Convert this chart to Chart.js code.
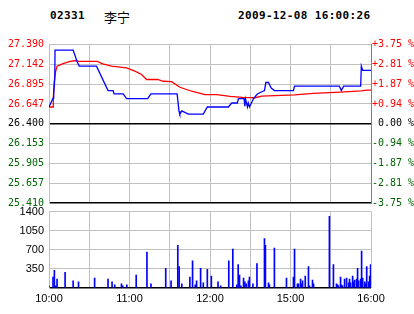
<!DOCTYPE html>
<html>
<head>
<meta charset="utf-8">
<script src="https://cdn.jsdelivr.net/npm/chart.js@4"></script>
<style>
  body { margin: 0; background: #fff; }
  #wrap { position: relative; width: 414px; height: 314px; overflow: hidden; }
  .hd { position: absolute; top: 9px; font: bold 11px "DejaVu Sans Mono", monospace; letter-spacing: 0.35px; color: #000; }
  #name { position: absolute; top: 7px; left: 104px; font: 13px "Noto Sans CJK SC", sans-serif; color: #000; }
  canvas { position: absolute; left: 0; }
</style>
</head>
<body>
<div id="wrap">
  <span class="hd" style="left:50px">02331</span>
  <span id="name">李宁</span>
  <span class="hd" style="left:238px">2009-12-08 16:00:26</span>
  <canvas id="priceChart" width="414" height="214" style="top:0"></canvas>
  <canvas id="volChart" width="414" height="114" style="top:200px"></canvas>
</div>
<script>
// minutes since 10:00 (lunch break removed: 12:30 -> 14:30)
const tickMinutes = [0, 60, 120, 180, 240];
const tickTimes = ['10:00', '11:00', '12:00', '15:00', '16:00'];

const prevClose = 26.4;
const priceTicks = [25.410, 25.657, 25.905, 26.153, 26.400, 26.647, 26.895, 27.142, 27.390];
const pctLabels = ['-3.75 %', '-2.81 %', '-1.87 %', '-0.94 %', ' 0.00 %', '+0.94 %', '+1.87 %', '+2.81 %', '+3.75 %'];

const priceMinutes = [0, 3, 3.5, 4.3, 4.5, 18, 21, 22.5, 35.4, 44, 47.8, 48.5, 55.3, 57.8, 73.5, 76, 95.5, 96.9, 97.5, 99, 103.8, 115, 118, 133.7, 136.2, 140.4, 141.2, 145.4, 146, 146.5, 147.9, 148.5, 149.4, 152.4, 155.3, 157.4, 160.6, 161.6, 163.6, 165.6, 168, 182.2, 183, 216.4, 217.9, 219.6, 232.3, 232.8, 233.8, 240];
const prices = [26.61, 26.72, 26.78, 26.96, 27.32, 27.32, 27.175, 27.12, 27.12, 26.815, 26.815, 26.772, 26.772, 26.714, 26.714, 26.772, 26.772, 26.555, 26.52, 26.56, 26.52, 26.52, 26.609, 26.609, 26.659, 26.659, 26.714, 26.714, 26.62, 26.71, 26.61, 26.66, 26.61, 26.714, 26.772, 26.79, 26.815, 26.915, 26.915, 26.847, 26.815, 26.815, 26.869, 26.869, 26.815, 26.869, 26.869, 27.12, 27.066, 27.066];

const avgMinutes = [0, 3, 3.2, 4, 5, 6, 10, 15, 20, 22, 36, 40, 46.6, 57.8, 64, 69, 72.7, 81, 85, 91.4, 97.6, 106.3, 116.3, 125, 135, 144.4, 153.6, 158.6, 183, 197, 217, 232.8, 237, 240];
const avgPrices = [26.609, 26.609, 26.72, 26.944, 27.057, 27.12, 27.149, 27.175, 27.19, 27.179, 27.179, 27.149, 27.12, 27.098, 27.057, 27.016, 26.953, 26.953, 26.931, 26.925, 26.856, 26.806, 26.764, 26.764, 26.743, 26.73, 26.725, 26.745, 26.76, 26.78, 26.795, 26.81, 26.82, 26.82];

const volMinutes = [0, 3, 4, 5, 6, 12, 18, 22, 34, 44, 47, 49, 54, 55, 58, 65, 73, 76, 87, 91, 96, 97, 99, 105, 107, 109, 110, 113, 115, 118, 121, 126, 128, 134, 137, 140, 141, 142, 143, 145, 146, 147, 148.6, 149.4, 152, 155, 160.6, 161.3, 163.6, 164.3, 168, 177, 182.2, 183, 185.2, 186, 187.5, 188.2, 189, 191, 193.4, 194.2, 196.4, 197.2, 209, 212, 214.3, 215.1, 215.8, 217.3, 218, 218.8, 220.3, 221.8, 223.3, 224, 224.8, 226.3, 227, 227.8, 229.3, 230, 230.8, 232.3, 233, 233.8, 235.3, 236, 236.8, 238.2, 239, 239.7];
const volumes = [41, 200, 324, 41, 165, 288, 130, 112, 182, 165, 112, 59, 77, 41, 59, 235, 659, 77, 359, 130, 783, 394, 77, 200, 500, 59, 130, 359, 94, 341, 218, 112, 41, 500, 712, 59, 430, 235, 41, 182, 112, 77, 130, 200, 77, 447, 906, 783, 94, 59, 730, 182, 200, 712, 77, 77, 165, 77, 130, 218, 394, 41, 147, 77, 1312, 430, 77, 59, 41, 200, 59, 41, 165, 182, 94, 165, 94, 218, 112, 147, 165, 359, 130, 165, 677, 182, 112, 77, 394, 112, 218, 430];

const RED = '#ff0000', GREEN = '#006400', GRID = '#c0c0c0';
const monoFont = { family: 'DejaVu Sans Mono', size: 10 };
const sansFont = { family: 'Liberation Sans', size: 11 };

const pts = (xs, ys) => xs.map((x, i) => ({ x: x, y: ys[i] }));
const setTicks = scale => { scale.ticks = priceTicks.map(v => ({ value: v })); };
const tickColor = c => {
  const v = c.tick.value;
  if (Math.abs(v - prevClose) < 1e-6) return '#000';
  return v > prevClose ? RED : GREEN;
};

new Chart(document.getElementById('priceChart').getContext('2d'), {
  type: 'line',
  data: {
    datasets: [
      {
        data: pts(priceMinutes, prices),
        borderColor: '#0000ff',
        borderWidth: 1.3,
        pointRadius: 0,
        tension: 0,
        fill: false,
      },
      {
        data: pts(avgMinutes, avgPrices),
        borderColor: RED,
        borderWidth: 1.3,
        pointRadius: 0,
        tension: 0,
        fill: false,
      },
    ],
  },
  options: {
    responsive: false,
    animation: false,
    layout: { padding: { top: 44.5, bottom: 3, left: 0, right: 0 } },
    plugins: { legend: { display: false }, tooltip: { enabled: false } },
    scales: {
      x: {
        type: 'linear',
        min: 0,
        max: 240,
        ticks: { stepSize: 30, callback: () => '' },
        grid: { color: GRID, lineWidth: 1, drawTicks: false },
        border: { display: false },
        afterFit: s => { s.height = 0; },
      },
      y: {
        position: 'left',
        min: 25.41,
        max: 27.39,
        afterBuildTicks: setTicks,
        ticks: { color: tickColor, font: monoFont, padding: 5, callback: v => v.toFixed(3) },
        grid: {
          drawTicks: false,
          color: c => (c.tick.value === prevClose || c.tick.value === 25.41 ? '#000' : GRID),
          lineWidth: c => (c.tick.value === prevClose || c.tick.value === 25.41 ? 1.5 : 1),
        },
        border: { color: GRID },
        afterFit: s => { s.width = 49; },
      },
      y2: {
        position: 'right',
        min: 25.41,
        max: 27.39,
        afterBuildTicks: setTicks,
        ticks: { color: tickColor, font: monoFont, padding: 1, callback: (v, i) => pctLabels[i] },
        grid: { display: false, drawTicks: false },
        border: { color: '#808080' },
        afterFit: s => { s.width = 43; },
      },
    },
  },
});

new Chart(document.getElementById('volChart').getContext('2d'), {
  type: 'bar',
  data: {
    datasets: [
      {
        data: pts(volMinutes, volumes),
        backgroundColor: '#0000ff',
        borderWidth: 0,
        barThickness: 1,
      },
    ],
  },
  options: {
    responsive: false,
    animation: false,
    layout: { padding: { top: 7.4, bottom: 0, left: 0, right: 43 } },
    plugins: { legend: { display: false }, tooltip: { enabled: false } },
    scales: {
      x: {
        type: 'linear',
        offset: false,
        min: 0,
        max: 240,
        ticks: {
          stepSize: 30,
          autoSkip: false,
          maxRotation: 0,
          padding: 4,
          color: '#000',
          font: sansFont,
          callback: v => {
            const i = tickMinutes.indexOf(v);
            return i < 0 ? '' : tickTimes[i];
          },
        },
        grid: { offset: false, color: GRID, lineWidth: 1, drawTicks: false },
        border: { display: false },
        afterFit: s => { s.height = 26; },
      },
      y: {
        min: 0,
        max: 1400,
        ticks: { stepSize: 350, font: sansFont, color: '#000', padding: 5, callback: v => (v === 0 ? '' : v) },
        grid: {
          drawTicks: false,
          color: c => (c.tick.value === 0 ? '#000' : GRID),
          lineWidth: c => (c.tick.value === 0 ? 1.5 : 1),
        },
        border: { color: GRID },
        afterFit: s => { s.width = 49; },
      },
    },
  },
});
</script>
</body>
</html>
